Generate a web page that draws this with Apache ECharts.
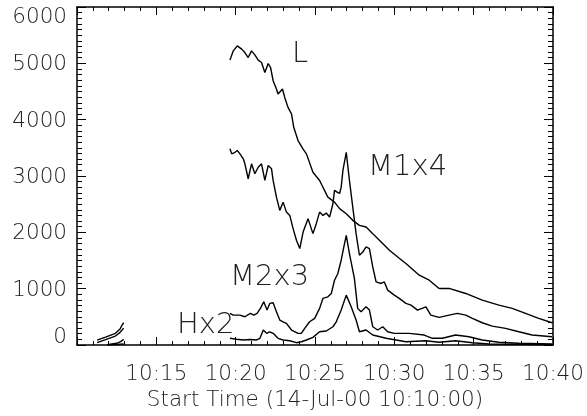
<!DOCTYPE html>
<html><head><meta charset="utf-8">
<script src="https://cdn.jsdelivr.net/npm/echarts@6/dist/echarts.min.js"></script>
<style>html,body{margin:0;padding:0;background:#fff}#c{width:587px;height:416px}</style>
</head><body><div id="c"></div>
<script>
// time = minutes after 10:00 on 14-Jul-2000
const xTickLabels = ['', '10:15', '10:20', '10:25', '10:30', '10:35', '10:40'];
const yTickLabels = ['0', '1000', '2000', '3000', '4000', '5000', '6000'];
const seriesNames = ['L', 'M1x4', 'M2x3', 'Hx2'];

const L_early = [[11.27,88],[11.8,140],[12.42,207],[12.7,280],[12.84,354],[12.94,395]];
const L_main = [[19.64,5057],[19.85,5222],[20.10,5310],[20.38,5252],[20.58,5191],[20.79,5103],[21.00,5222],[21.21,5151],[21.42,5057],[21.63,5014],[21.84,4837],[22.05,4997],[22.20,4926],[22.36,4691],[22.57,4544],[22.67,4455],[22.95,4544],[23.09,4395],[23.30,4218],[23.52,4101],[23.66,3864],[23.93,3629],[24.24,3482],[24.46,3393],[24.87,3067],[25.29,2921],[25.81,2625],[26.23,2536],[26.55,2420],[26.97,2331],[27.38,2213],[27.80,2124],[28.22,2094],[28.64,1977],[29.06,1858],[29.69,1681],[30.31,1540],[30.73,1446],[31.57,1239],[32.20,1150],[32.82,1004],[33.45,1004],[34.50,915],[35.54,797],[36.59,708],[37.43,650],[38.27,561],[39.10,473],[39.94,395]];

const M1_early = [[11.27,41],[11.8,95],[12.42,159],[12.7,220],[12.84,266],[12.94,300]];
const M1_main = [[19.64,3482],[19.75,3393],[19.96,3421],[20.10,3452],[20.27,3393],[20.48,3305],[20.58,3216],[20.79,2951],[21.00,3216],[21.21,3039],[21.42,3156],[21.63,3216],[21.84,2921],[22.05,3186],[22.26,3128],[22.36,2921],[22.57,2625],[22.78,2390],[22.99,2536],[23.20,2359],[23.41,2301],[23.62,2066],[23.83,1859],[24.04,1712],[24.25,2005],[24.56,2243],[24.87,1977],[25.08,2154],[25.29,2359],[25.50,2301],[25.71,2342],[25.92,2271],[26.13,2508],[26.23,2744],[26.42,2708],[26.55,2690],[26.65,2802],[26.76,3098],[26.97,3421],[27.17,2921],[27.38,2448],[27.59,1977],[27.80,1593],[28.01,1651],[28.22,1740],[28.43,1712],[28.64,1386],[28.85,1120],[29.17,1092],[29.37,1120],[29.58,974],[30.00,885],[30.31,827],[30.73,738],[31.05,708],[31.46,620],[31.99,678],[32.30,531],[32.82,490],[33.45,531],[33.97,561],[34.50,531],[34.92,473],[35.54,395],[36.17,336],[37.01,296],[37.85,235],[38.68,177],[39.94,147]];

const M2_early = [[11.9,5],[12.5,30],[12.75,60],[12.94,100]];
const M2_main = [[19.64,561],[19.85,531],[20.27,531],[20.58,501],[20.93,561],[21.14,531],[21.35,561],[21.56,650],[21.77,766],[21.98,620],[22.15,738],[22.36,749],[22.57,589],[22.78,443],[22.99,412],[23.20,384],[23.52,266],[23.93,207],[24.14,207],[24.35,296],[24.66,412],[24.98,473],[25.29,650],[25.50,827],[25.81,855],[26.03,915],[26.23,1150],[26.44,1269],[26.65,1505],[26.86,1800],[26.97,1947],[27.17,1623],[27.48,1186],[27.69,650],[27.90,589],[28.22,678],[28.43,620],[28.64,324],[28.95,266],[29.27,324],[29.58,235],[30.00,207],[30.94,207],[31.88,177],[32.40,119],[33.03,119],[33.86,177],[34.70,147],[35.54,89],[36.59,48],[37.85,30],[39.94,18]];

const H_early = [[11.9,0],[12.5,8],[12.94,20]];
const H_main = [[19.64,119],[20.06,101],[20.48,89],[20.89,97],[21.32,89],[21.53,119],[21.74,266],[21.95,207],[22.15,235],[22.36,207],[22.67,119],[22.99,89],[23.41,76],[23.83,41],[24.14,58],[24.46,89],[24.87,136],[25.29,235],[25.71,248],[26.13,324],[26.34,412],[26.65,620],[26.97,885],[27.28,678],[27.59,443],[27.80,235],[28.22,266],[28.64,177],[29.48,119],[30.73,58],[31.99,76],[32.82,48],[33.86,76],[34.92,41],[35.96,18],[39.94,5]];

const GAP = [[16, '-']];
const FONT = 'DejaVu Sans';

const chart = echarts.init(document.getElementById('c'), null, {renderer: 'canvas'});

function mkSeries(name, early, main) {
  return {
    name: name, type: 'line', showSymbol: false, symbol: 'none',
    xAxisIndex: 0, yAxisIndex: 0,
    data: early.concat(GAP, main), connectNulls: false,
    lineStyle: {color: '#000', width: 1.4}, itemStyle: {color: '#000'},
    silent: true, animation: false
  };
}

const labelStyle = {fontFamily: FONT, fontSize: 21.5, fontWeight: 200, color: '#222'};
const gridRect = {left: 77, right: 34, top: 7, bottom: 71, outerBoundsMode: 'none', containLabel: false};
const XMIN = 10, XMAX = 40, XSTEP = 5, YMIN = 0, YMAX = 6000, YSTEP = 1000;

// frame + tick-only axes (grid 1)
function tickAxis(kind, pos, gridIndex, tickLen, minorLen, minorSplit) {
  const isX = kind === 'x';
  return {
    type: 'value', gridIndex: gridIndex, position: pos,
    min: isX ? XMIN : YMIN, max: isX ? XMAX : YMAX, interval: isX ? XSTEP : YSTEP,
    axisLine: {show: true, onZero: false, lineStyle: {color: '#000', width: 1.5}},
    axisTick: {show: true, inside: true, length: tickLen},
    minorTick: {show: true, splitNumber: minorSplit, length: minorLen},
    splitLine: {show: false},
    axisLabel: {color: 'rgba(0,0,0,0)'}
  };
}

chart.setOption({
  backgroundColor: '#fff',
  animation: false,
  grid: [Object.assign({}, gridRect), Object.assign({}, gridRect)],
  xAxis: [{
    type: 'value', gridIndex: 0, min: XMIN, max: XMAX, interval: XSTEP, position: 'bottom',
    axisLine: {show: false, onZero: false},
    axisTick: {show: false}, minorTick: {show: false}, splitLine: {show: false},
    axisLabel: Object.assign({margin: 18, formatter: v => xTickLabels[Math.round((v - XMIN) / XSTEP)] || ''}, labelStyle),
    name: 'Start Time (14-Jul-00 10:10:00)', nameLocation: 'middle', nameGap: 43,
    nameTextStyle: Object.assign({}, labelStyle)
  },
    tickAxis('x', 'bottom', 1, 8, 4, 5),
    tickAxis('x', 'top', 1, 8, 4, 5)
  ],
  yAxis: [{
    type: 'value', gridIndex: 0, min: YMIN, max: YMAX, interval: YSTEP, position: 'left',
    axisLine: {show: false, onZero: false},
    axisTick: {show: false}, minorTick: {show: false}, splitLine: {show: false},
    axisLabel: Object.assign({
      margin: 10,
      formatter: v => {
        const s = yTickLabels[Math.round(v / YSTEP)];
        if (v === YMAX) return '{top|' + s + '}';
        if (v === YMIN) return '{bot|' + s + '}';
        return '{mid|' + s + '}';
      },
      rich: {
        top: Object.assign({padding: [21, 0, 0, 0]}, labelStyle),
        bot: Object.assign({padding: [0, 0, 16, 0]}, labelStyle),
        mid: Object.assign({padding: [3, 0, 0, 0]}, labelStyle)
      }
    }, labelStyle)
  },
    tickAxis('y', 'left', 1, 9, 5, 10),
    tickAxis('y', 'right', 1, 9, 5, 10)
  ],
  series: [
    mkSeries(seriesNames[0], L_early, L_main),
    mkSeries(seriesNames[1], M1_early, M1_main),
    mkSeries(seriesNames[2], M2_early, M2_main),
    mkSeries(seriesNames[3], H_early, H_main)
  ],
  graphic: [
    {type: 'text', left: 292, top: 40, style: {text: seriesNames[0], font: '200 29px "DejaVu Sans"', fill: '#222'}},
    {type: 'text', left: 368, top: 153, style: {text: seriesNames[1], font: '200 29px "DejaVu Sans"', fill: '#222'}},
    {type: 'text', left: 230, top: 263, style: {text: seriesNames[2], font: '200 29px "DejaVu Sans"', fill: '#222'}},
    {type: 'text', left: 177, top: 311, style: {text: seriesNames[3], font: '200 29px "DejaVu Sans"', fill: '#222'}}
  ]
});
</script></body></html>
